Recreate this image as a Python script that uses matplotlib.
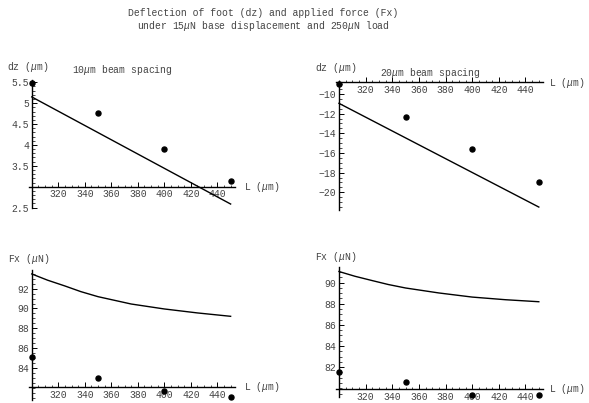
import numpy as np
import matplotlib
matplotlib.use("Agg")
import matplotlib.pyplot as plt
from matplotlib.ticker import MultipleLocator, FixedLocator

plt.rcParams['font.family'] = 'Liberation Mono'
plt.rcParams['font.size'] = 7
plt.rcParams['mathtext.fontset'] = 'custom'
plt.rcParams['mathtext.rm'] = 'Liberation Mono'
plt.rcParams['mathtext.it'] = 'Liberation Mono:italic'

W, H = 589, 403
TXT = '#444444'

# beam length (um)
L_pts = [300, 350, 400, 450]
L_curve = [300, 312, 325, 337, 350, 375, 400, 425, 450]

# 10um spacing, deflection dz (um)
dz10_meas = [5.48, 4.76, 3.90, 3.14]
dz10_model = [5.15, 2.585]
# 20um spacing, deflection dz (um)
dz20_meas = [-9.01, -12.31, -15.56, -18.95]
dz20_model = [-10.95, -21.5]
# 10um spacing, force Fx (uN)
fx10_meas = [85.14, 83.03, 81.71, 81.04]
fx10_model = [93.48, 92.85, 92.27, 91.7, 91.19, 90.45, 89.95, 89.55, 89.21]
# 20um spacing, force Fx (uN)
fx20_meas = [81.52, 80.57, 79.39, 79.36]
fx20_model = [91.05, 90.6, 90.19, 89.82, 89.49, 89.02, 88.63, 88.38, 88.19]


def px_axes(fig, left, top, right, bottom):
    return fig.add_axes([left / W, 1 - bottom / H, (right - left) / W, (bottom - top) / H])


def ptext(fig, x, y, s, **kw):
    fig.text(x / W, 1 - y / H, s, color=TXT, **kw)


def style(ax, xlim, ylim, y0, yticks, ylabels, yminor):
    ax.set_xlim(*xlim)
    ax.set_ylim(*ylim)
    for s in ['top', 'right']:
        ax.spines[s].set_visible(False)
    ax.spines['left'].set_position(('data', 300))
    ax.spines['bottom'].set_position(('data', y0))
    for s in ['left', 'bottom']:
        ax.spines[s].set_linewidth(1.0)
    ax.patch.set_alpha(0)
    ax.xaxis.set_major_locator(FixedLocator([320, 340, 360, 380, 400, 420, 440]))
    ax.xaxis.set_minor_locator(MultipleLocator(5))
    ax.yaxis.set_major_locator(FixedLocator(yticks))
    ax.set_yticklabels(ylabels)
    ax.yaxis.set_minor_locator(MultipleLocator(yminor))
    ax.tick_params(which='major', direction='in', length=3.5, width=0.7,
                   labelsize=7, labelcolor=TXT, pad=2)
    ax.tick_params(which='minor', direction='in', length=1.8, width=0.5)


fig = plt.figure(figsize=(W / 100, H / 100), dpi=100)

ptext(fig, 263, 12.5, 'Deflection of foot (dz) and applied force (Fx)', ha='center', va='center')
ptext(fig, 263, 26, r'under 15$\mu$N base displacement and 250$\mu$N load', ha='center', va='center')

# panel 1
ax1 = px_axes(fig, 28.7, 80, 235, 208)
ax1.plot(L_pts, dz10_meas, 'o', color='black', ms=3.6, clip_on=False, zorder=3)
ax1.plot([300, 450], dz10_model, color='black', lw=1.0, clip_on=False)
style(ax1, (297.7, 453.3), (2.49, 5.555), 3.0,
      [2.5, 3.5, 4, 4.5, 5, 5.5], ['2.5', '3.5', '4', '4.5', '5', '5.5'], 0.1)
ptext(fig, 7, 67, r'dz ($\mu$m)', ha='left', va='center')
ptext(fig, 72.5, 70, r'10$\mu$m beam spacing', ha='left', va='center')
ptext(fig, 244, 186.7, r'L ($\mu$m)', ha='left', va='center')

# panel 2
ax2 = px_axes(fig, 335.9, 81.2, 543.2, 210)
ax2.plot(L_pts, dz20_meas, 'o', color='black', ms=3.6, clip_on=False, zorder=3)
ax2.plot([300, 450], dz20_model, color='black', lw=1.0, clip_on=False)
style(ax2, (297.7, 453.3), (-21.8, -8.7), -8.8,
      [-10, -12, -14, -16, -18, -20], ['\u221210', '\u221212', '\u221214', '\u221216', '\u221218', '\u221220'], 0.5)
ptext(fig, 315, 68.3, r'dz ($\mu$m)', ha='left', va='center')
ptext(fig, 380, 72.5, r'20$\mu$m beam spacing', ha='left', va='center')
ptext(fig, 549, 83, r'L ($\mu$m)', ha='left', va='center')

# panel 3
ax3 = px_axes(fig, 28.7, 269.8, 235, 400)
ax3.plot(L_pts, fx10_meas, 'o', color='black', ms=3.6, clip_on=False, zorder=3)
ax3.plot(L_curve, fx10_model, color='black', lw=1.0, clip_on=False)
style(ax3, (297.7, 453.3), (80.77, 93.9), 82.05,
      [84, 86, 88, 90, 92], ['84', '86', '88', '90', '92'], 0.5)
ptext(fig, 7.5, 259.3, r'Fx ($\mu$N)', ha='left', va='center')
ptext(fig, 244, 387.3, r'L ($\mu$m)', ha='left', va='center')

# panel 4
ax4 = px_axes(fig, 335.9, 267.5, 543.2, 396.7)
ax4.plot(L_pts, fx20_meas, 'o', color='black', ms=3.6, clip_on=False, zorder=3)
ax4.plot(L_curve, fx20_model, color='black', lw=1.0, clip_on=False)
style(ax4, (297.7, 453.3), (79.2, 91.43), 79.9,
      [82, 84, 86, 88, 90], ['82', '84', '86', '88', '90'], 0.5)
ptext(fig, 315, 257.3, r'Fx ($\mu$N)', ha='left', va='center')
ptext(fig, 549, 389.3, r'L ($\mu$m)', ha='left', va='center')

fig.savefig('out.png', dpi=100)
